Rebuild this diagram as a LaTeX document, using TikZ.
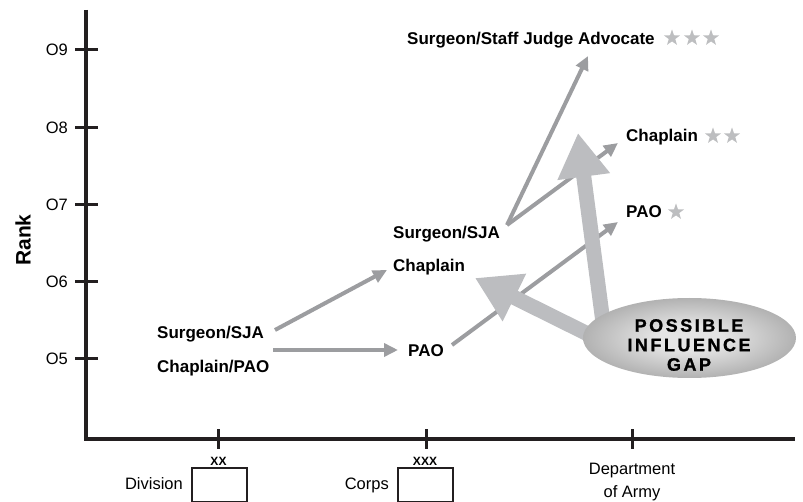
\documentclass[tikz,border=0pt]{standalone}
\usepackage{fontspec}
\setmainfont{Liberation Sans}
\newfontfamily\gapfont{Liberation Sans}[LetterSpace=14,FakeBold=1.2]
\usetikzlibrary{arrows.meta,shapes.geometric}
\definecolor{axisc}{HTML}{231F20}
\definecolor{thinc}{HTML}{9C9DA0}
\definecolor{bigc}{HTML}{BCBDC0}
\definecolor{starc}{HTML}{BDBEC0}
\definecolor{gl}{HTML}{E4E4E4}
\definecolor{gd}{HTML}{686868}
\pgfdeclareradialshading{gapshade}{\pgfpoint{0bp}{0bp}}{color(0bp)=(gl); color(8bp)=(gl); color(50bp)=(gd); color(100bp)=(gd)}
\begin{document}
\begin{tikzpicture}[x=1pt,y=-1pt,
  lbl/.style={font=\fontsize{17}{20}\selectfont\bfseries, inner sep=0pt, anchor=base west},
  reg/.style={font=\fontsize{16.5}{20}\selectfont, inner sep=0pt},
  thinarrow/.style={draw=thinc, line width=4pt, -{Triangle[length=14pt,width=13pt]}},
  bigarrow/.style={draw=bigc, line width=15pt, -{Triangle[length=44pt,width=50pt]}},
  starmark/.style={star, star points=5, star point ratio=2.5, fill=starc, inner sep=0pt, minimum size=17pt},
  axisline/.style={draw=axisc, line width=4pt},
  tickline/.style={draw=axisc, line width=3pt},
  unitbox/.style={draw=axisc, line width=1.5pt, minimum width=55pt, minimum height=34pt, inner sep=0pt, anchor=north west},
  echelon/.style={font=\fontsize{12}{12}\selectfont\bfseries, inner sep=0pt, anchor=base}
]
\useasboundingbox (0,0) rectangle (803,502);

% axes
\draw[axisline] (86,10) -- (86,439) -- (795,439);
\foreach \yy/\t in {50/O9,128/O8,205/O7,282/O6,359/O5}{
  \draw[tickline] (75,\yy) -- (98,\yy);
  \node[reg, anchor=east] at (68,\yy) {\t};
}
\foreach \xx in {218,426,632}{
  \draw[tickline] (\xx,429) -- (\xx,449);
}
\node[font=\fontsize{21}{21}\selectfont\bfseries, rotate=90] (rank) at (23,240) {Rank};

% x-axis labels
\node[unitbox] (divbox) at (191,467) {};
\node[echelon] (divxx) at (218.5,465) {XX};
\node[reg, anchor=base east] (divlbl) at (183,489) {Division};
\node[unitbox] (corpsbox) at (397,467) {};
\node[echelon] (corpsxx) at (425,465) {XXX};
\node[reg, anchor=base east] (corpslbl) at (389,489) {Corps};
\node[reg, anchor=base] (dept1) at (632,474) {Department};
\node[reg, anchor=base] (dept2) at (632,497) {of Army};

% labels
\node[lbl] (sja3) at (407,45) {Surgeon/Staff Judge Advocate};
\node[starmark] (s31) at (672,38) {};
\node[starmark] (s32) at (692,38) {};
\node[starmark] (s33) at (711,38) {};
\node[lbl] (chap2) at (626,142) {Chaplain};
\node[starmark] (s21) at (713,136) {};
\node[starmark] (s22) at (732,136) {};
\node[lbl] (pao1) at (626,218) {PAO};
\node[starmark] (s11) at (676,212) {};
\node[lbl] (sjamid) at (393,239) {Surgeon/SJA};
\node[lbl] (chapmid) at (393,272) {Chaplain};
\node[lbl] (paomid) at (408,357) {PAO};
\node[lbl] (sjalow) at (157,339) {Surgeon/SJA};
\node[lbl] (chaplow) at (157,373) {Chaplain/PAO};

% thin arrow end points
\coordinate (a1s) at (275,330);
\coordinate (a1e) at (387,270);
\coordinate (a2s) at (273,350);
\coordinate (a2e) at (398,350);
\coordinate (a3s) at (452,345);
\coordinate (a3e) at (618,222);
\coordinate (a4s) at (507,225);
\coordinate (a4e) at (588,56);
\coordinate (a5e) at (618,143);
\draw[thinarrow] (a1s) -- (a1e);
\draw[thinarrow] (a2s) -- (a2e);
\draw[thinarrow] (a3s) -- (a3e);
\draw[thinarrow] (a4s) -- (a4e);
\draw[thinarrow] (a4s) -- (a5e);

% big arrows
\coordinate (b1s) at (604,330);
\coordinate (b1e) at (578,133);
\coordinate (b2s) at (600,340);
\coordinate (b2e) at (475,278);
\draw[bigarrow] (b1s) -- (b1e);
\draw[bigarrow] (b2s) -- (b2e);

% gap ellipse
\node[ellipse, minimum width=213pt, minimum height=80pt, inner sep=0pt, shade, shading=gapshade] (gap) at (689.5,338) {};
\node[font=\gapfont\fontsize{18}{19.5}\selectfont\bfseries, align=center, inner sep=0pt] (gaptxt) at (689,345) {POSSIBLE\\INFLUENCE\\GAP};
\end{tikzpicture}
\end{document}
